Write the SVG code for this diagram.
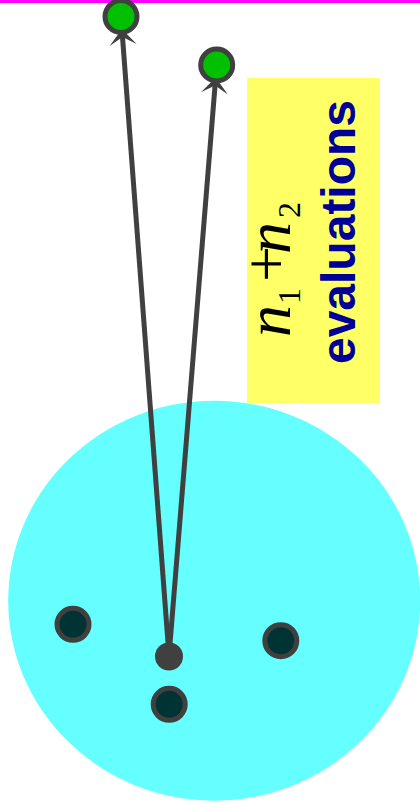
<svg xmlns="http://www.w3.org/2000/svg" width="420" height="812" viewBox="0 0 420 812">
<style>
.edge{fill:none;stroke:#404040;stroke-width:5}
.green{fill:#00c000;stroke:#404040;stroke-width:5}
.dark{fill:#003333;stroke:#404040;stroke-width:5}
.math{font-family:"Liberation Serif",serif;fill:#000}
.lbl{font-family:"Liberation Sans",Arial,sans-serif;font-weight:bold;fill:#000099}
</style>
<defs>
<marker id="ah" markerUnits="userSpaceOnUse" markerWidth="50" markerHeight="50" viewBox="-25 -25 50 50" refX="0" refY="0" orient="auto" overflow="visible">
<path d="M0,0 L-16,-13.5 L-8,0 L-16,13.5 Z" fill="#404040"/>
</marker>
</defs>
<rect id="topline" x="0" y="0" width="420" height="3" fill="#ff00ff"/>
<g id="region"><ellipse cx="214.2" cy="600.7" rx="206" ry="200" fill="#66ffff"/></g>
<g id="note">
<rect x="247" y="78" width="133" height="325" fill="#ffff66"/>
<text class="math" font-size="64" transform="translate(290,337) rotate(-90)"><tspan x="0" y="0" font-style="italic">n</tspan><tspan x="33" y="10" font-size="32">1</tspan><tspan x="55" y="-2">+</tspan><tspan x="83" y="0" font-style="italic">n</tspan><tspan x="119" y="10" font-size="32">2</tspan></text>
<text class="lbl" font-size="48" text-anchor="middle" transform="translate(355,232) rotate(-90)">evaluations</text>
</g>
<g id="connectors">
<path class="edge" d="M169,656 L121.9,29" marker-end="url(#ah)"/>
<path class="edge" d="M169,656 L215.7,77.5" marker-end="url(#ah)"/>
</g>
<g id="target1"><circle class="green" cx="121" cy="16.5" r="16"/></g>
<g id="target2"><circle class="green" cx="216.7" cy="65" r="16"/></g>
<g id="start"><circle cx="169" cy="656.5" r="14" fill="#404040"/></g>
<g id="p1"><circle class="dark" cx="73" cy="624.3" r="16"/></g>
<g id="p2"><circle class="dark" cx="280.8" cy="640.7" r="16"/></g>
<g id="p3"><circle class="dark" cx="169.2" cy="704.3" r="16"/></g>
</svg>
